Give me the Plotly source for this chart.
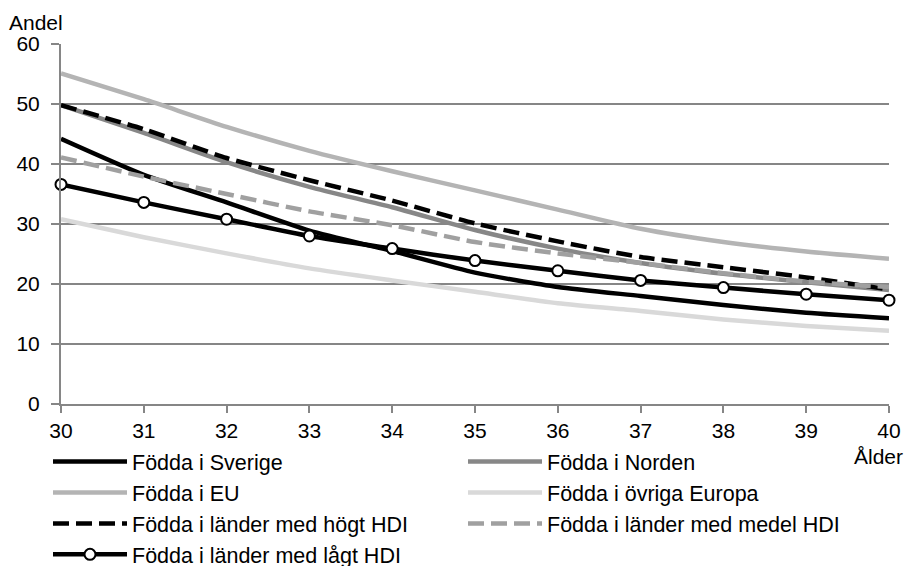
import plotly.graph_objects as go

ages = [30, 31, 32, 33, 34, 35, 36, 37, 38, 39, 40]

sverige = [44.2, 38.2, 33.6, 28.9, 25.5, 21.9, 19.5, 18.0, 16.5, 15.2, 14.3]
norden = [49.8, 45.2, 40.3, 36.2, 32.8, 29.0, 25.9, 23.5, 21.7, 20.3, 19.0]
eu = [55.1, 50.8, 46.2, 42.2, 38.8, 35.6, 32.4, 29.2, 27.0, 25.4, 24.2]
ovriga = [30.8, 27.8, 25.1, 22.6, 20.6, 18.7, 16.8, 15.5, 14.1, 13.0, 12.2]
hogt = [49.8, 45.8, 41.0, 37.3, 33.9, 30.1, 27.1, 24.5, 22.8, 21.1, 19.1]
medel = [41.1, 37.9, 35.0, 32.1, 29.8, 27.0, 25.1, 23.5, 21.8, 20.4, 19.5]
lagt = [36.6, 33.6, 30.8, 28.0, 25.9, 23.9, 22.2, 20.6, 19.4, 18.3, 17.3]

y_ticks = [0, 10, 20, 30, 40, 50, 60]

series = [
    ("Födda i Sverige", sverige, "#000000", "solid", False),
    ("Födda i Norden", norden, "#878787", "solid", False),
    ("Födda i EU", eu, "#b4b4b4", "solid", False),
    ("Födda i övriga Europa", ovriga, "#d9d9d9", "solid", False),
    ("Födda i länder med högt HDI", hogt, "#000000", "16px,7px", False),
    ("Födda i länder med medel HDI", medel, "#a0a0a0", "16px,7px", False),
    ("Födda i länder med lågt HDI", lagt, "#000000", "solid", True),
]

fig = go.Figure()
for name, vals, color, dash, markers in series:
    fig.add_trace(go.Scatter(
        x=ages, y=vals, name=name,
        mode="lines+markers" if markers else "lines",
        line=dict(color=color, width=4.5, dash=dash, shape="spline", smoothing=0.6),
        marker=dict(size=11, color="white", line=dict(color="black", width=2)) if markers else None,
        cliponaxis=False,
    ))

FAM = "Liberation Sans, Arial, sans-serif"
font = dict(family=FAM, size=21, color="#000000")

W, H = 905, 566
L, R, T, B = 61, 16, 44, 162
PW, PH = W - L - R, H - T - B


def px(xf):
    return (xf - L) / PW


def py(yf):
    return (H - B - yf) / PH


fig.update_layout(
    width=W, height=H,
    margin=dict(l=L, r=R, t=T, b=B, autoexpand=False),
    paper_bgcolor="white", plot_bgcolor="white",
    font=font,
    showlegend=True,
    legend=dict(
        orientation="h",
        x=px(48), xanchor="left",
        y=py(441), yanchor="top",
        entrywidth=326, entrywidthmode="pixels",
        font=dict(family=FAM, size=21.5, color="#000000"),
        itemwidth=74,
        bgcolor="rgba(0,0,0,0)",
        traceorder="normal",
    ),
    xaxis=dict(
        range=[30, 40], tickvals=ages, ticktext=[str(a) for a in ages],
        showgrid=False, showline=True, linecolor="#868686", linewidth=2,
        ticks="outside", ticklen=7, tickcolor="#868686", tickwidth=2,
        zeroline=False, fixedrange=True, automargin=False,
    ),
    yaxis=dict(
        range=[0, 60], tickvals=y_ticks,
        showgrid=True, gridcolor="#868686", gridwidth=1.7,
        showline=True, linecolor="#868686", linewidth=2,
        ticks="outside", ticklen=8, tickcolor="#868686", tickwidth=2,
        ticklabelstandoff=7,
        zeroline=False, fixedrange=True, automargin=False,
    ),
    annotations=[
        dict(text="Andel", xref="paper", yref="paper", x=px(7), y=py(22),
             xanchor="left", yanchor="middle", showarrow=False, font=font),
        dict(text="Ålder", xref="paper", yref="paper", x=px(905), y=py(456),
             xanchor="right", yanchor="middle", showarrow=False, font=font),
    ],
)

fig.write_html(
    "out.html",
    config={"displayModeBar": False, "staticPlot": True},
    post_script="document.body.style.margin='0';document.body.style.overflow='hidden';",
)
